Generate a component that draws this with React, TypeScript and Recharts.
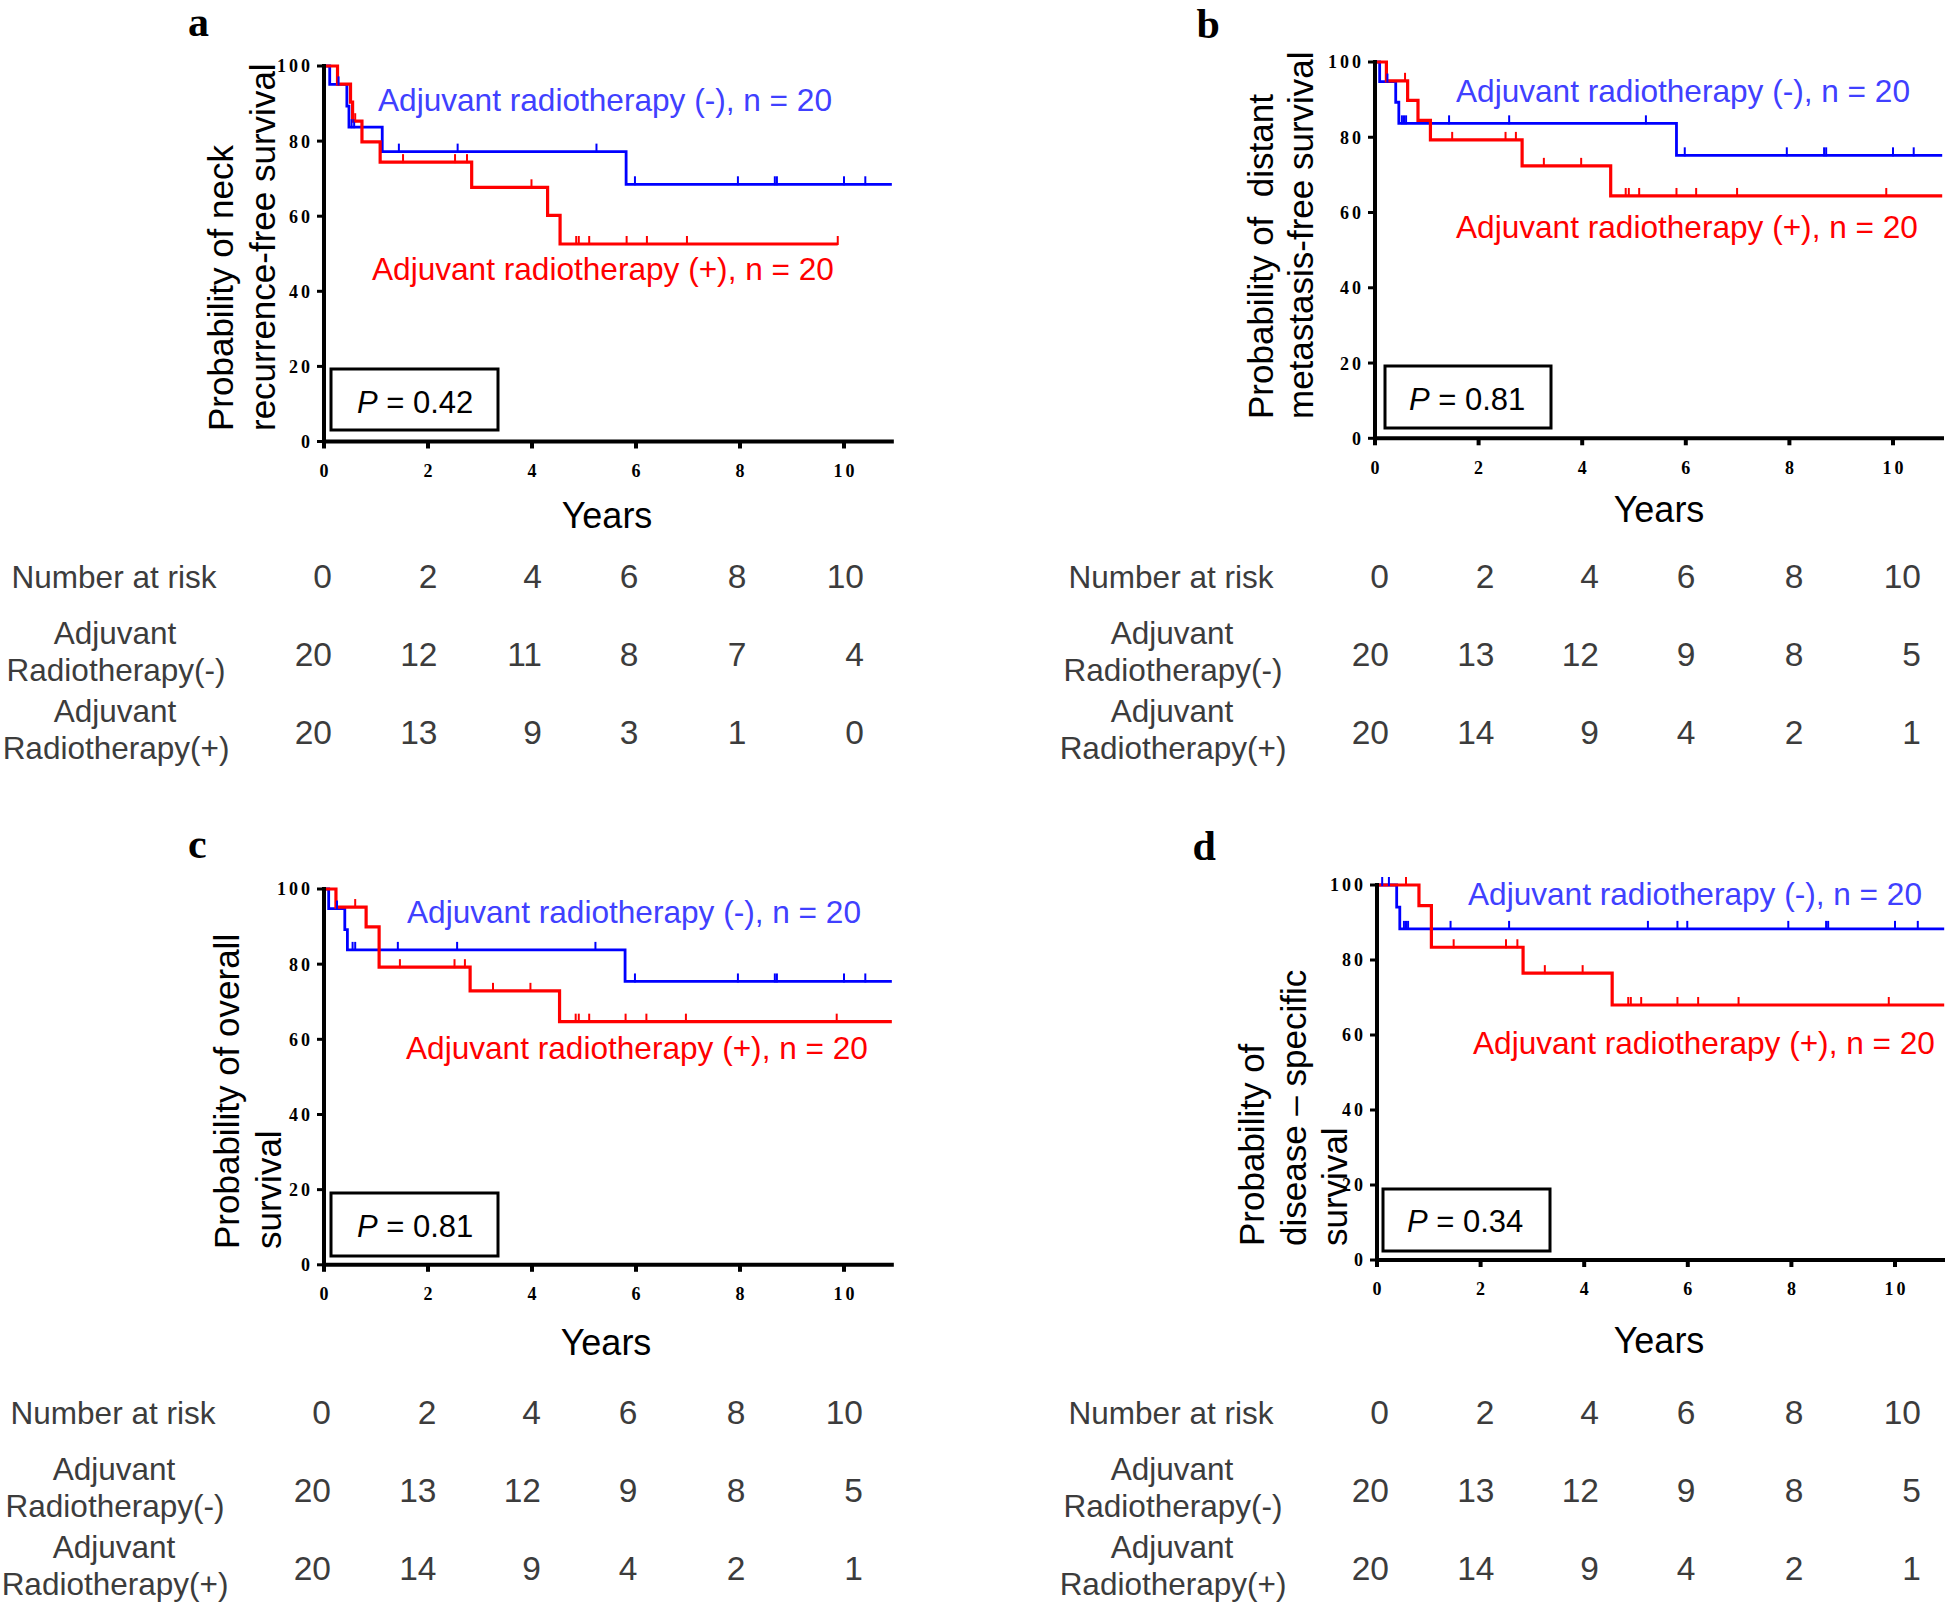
import React from "react";
import { ComposedChart, Line, XAxis, YAxis } from "recharts";

const SANS = "'Liberation Sans', Arial, Helvetica, sans-serif";
const SERIF = "'Liberation Serif', 'Times New Roman', serif";
const BLUE = "#0000ff";
const RED = "#ff0000";
const BLUE_TEXT = "#4040ff";
const GREY = "#3c3c3c";

const yearTicks = [0, 2, 4, 6, 8, 10];
const probTicks = [0, 20, 40, 60, 80, 100];

// a: neck recurrence-free survival
const aNegTimes = [0, 0.11, 0.44, 0.48, 1.12, 5.81, 10.92];
const aNegSurv = [100, 95.1, 89.3, 83.7, 77.2, 68.5, 68.5];
const aNegCensored = [0.28, 0.53, 0.58, 1.44, 2.57, 5.24, 5.98, 7.96, 8.67, 8.71, 10.0, 10.41];
const aPosTimes = [0, 0.26, 0.51, 0.55, 0.73, 1.08, 2.84, 4.3, 4.54, 9.88];
const aPosSurv = [100, 95.2, 90.4, 85.3, 79.8, 74.4, 67.7, 60.2, 52.6, 52.6];
const aPosCensored = [0.6, 1.52, 2.52, 2.75, 3.99, 4.85, 4.9, 5.1, 5.82, 6.21, 6.98, 9.88];
const aRiskNeg = [20, 12, 11, 8, 7, 4];
const aRiskPos = [20, 13, 9, 3, 1, 0];

// b: distant metastasis-free survival
const bNegTimes = [0, 0.09, 0.4, 0.46, 5.82, 10.95];
const bNegSurv = [100, 94.8, 89.3, 83.7, 75.2, 75.2];
const bNegCensored = [0.24, 0.52, 0.56, 0.6, 1.43, 2.59, 5.23, 5.98, 7.95, 8.67, 8.71, 10.0, 10.4];
const bPosTimes = [0, 0.22, 0.63, 0.83, 1.07, 2.84, 4.55, 10.95];
const bPosSurv = [100, 95, 89.8, 84.5, 79.3, 72.4, 64.4, 64.4];
const bPosCensored = [0.58, 1.49, 2.52, 2.72, 3.26, 3.98, 4.84, 4.9, 5.1, 5.82, 6.2, 6.99, 9.87];
const bRiskNeg = [20, 13, 12, 9, 8, 5];
const bRiskPos = [20, 14, 9, 4, 2, 1];

// c: overall survival
const cNegTimes = [0, 0.09, 0.4, 0.45, 5.79, 10.92];
const cNegSurv = [100, 94.8, 89.2, 83.8, 75.4, 75.4];
const cNegCensored = [0.25, 0.55, 0.6, 1.42, 2.56, 5.22, 5.98, 7.96, 8.67, 8.71, 10.0, 10.41];
const cPosTimes = [0, 0.23, 0.81, 1.06, 2.81, 4.53, 10.92];
const cPosSurv = [100, 95.2, 89.9, 79.2, 72.9, 64.7, 64.7];
const cPosCensored = [0.6, 1.46, 2.51, 2.71, 3.25, 3.97, 4.84, 4.9, 5.1, 5.8, 6.2, 6.96, 9.86];
const cRiskNeg = [20, 13, 12, 9, 8, 5];
const cRiskPos = [20, 14, 9, 4, 2, 1];

// d: disease-specific survival
const dNegTimes = [0, 0.38, 0.44, 10.95];
const dNegSurv = [100, 94.1, 88.3, 88.3];
const dNegCensored = [0.1, 0.23, 0.52, 0.56, 0.6, 1.42, 2.55, 5.23, 5.8, 5.99, 7.94, 8.67, 8.71, 10.0, 10.44];
const dPosTimes = [0, 0.81, 1.05, 2.82, 4.54, 10.95];
const dPosSurv = [100, 94.5, 83.4, 76.5, 68.0, 68.0];
const dPosCensored = [0.56, 1.48, 2.49, 2.71, 3.24, 3.97, 4.85, 4.9, 5.1, 5.8, 6.2, 6.98, 9.88];
const dRiskNeg = [20, 13, 12, 9, 8, 5];
const dRiskPos = [20, 14, 9, 4, 2, 1];

function toPoints(times: number[], surv: number[]) {
  return times.map((t, i) => ({ t, s: surv[i] }));
}

// censor marks sit on the curve, so look up the step value at each time
function censorPoints(times: number[], surv: number[], censored: number[]) {
  return censored.map((t) => {
    let s = surv[0];
    times.forEach((tt, i) => {
      if (tt <= t) s = surv[i];
    });
    return { t, s };
  });
}

const XTick = (props: any) => {
  const { x, y, payload } = props;
  return (
    <text x={x + 1.5} y={y} dy="0.75em" textAnchor="middle" fontFamily={SERIF}
      fontWeight="bold" fontSize={18} letterSpacing={3} fill="#000">
      {payload.value}
    </text>
  );
};

const YTick = (props: any) => {
  const { x, y, payload } = props;
  return (
    <text x={x} y={y} dy="0.36em" textAnchor="end" fontFamily={SERIF}
      fontWeight="bold" fontSize={18} letterSpacing={3} fill="#000">
      {payload.value}
    </text>
  );
};

function censorMark(color: string) {
  return (p: any) => (
    <line key={`c${p.index}`} x1={p.cx} x2={p.cx} y1={p.cy - 8} y2={p.cy + 1}
      stroke={color} strokeWidth={2} />
  );
}

interface KMProps {
  x0: number; y100: number; y0: number; pxYr: number; xMax: number;
  negT: number[]; negS: number[]; negC: number[];
  posT: number[]; posS: number[]; posC: number[];
}

const Y_AXIS_W = 70;
const TOP_PAD = 12;
const X_AXIS_H = 60;

function KMChart(p: KMProps) {
  const plotW = p.xMax * p.pxYr;
  const plotH = p.y0 - p.y100;
  const w = Y_AXIS_W + plotW + 2;
  const h = TOP_PAD + plotH + X_AXIS_H;
  const axisLine = { stroke: "#000", strokeWidth: 4, strokeLinecap: "square" as const };
  return (
    <div style={{ position: "absolute", left: p.x0 - Y_AXIS_W, top: p.y100 - TOP_PAD }}>
      <ComposedChart width={w} height={h} margin={{ top: TOP_PAD, right: 2, bottom: 0, left: 0 }}>
        <XAxis dataKey="t" type="number" domain={[0, p.xMax]} ticks={yearTicks}
          height={X_AXIS_H} tickSize={7} tickMargin={15} axisLine={axisLine}
          tickLine={{ stroke: "#000", strokeWidth: 4 }} tick={<XTick />} />
        <YAxis dataKey="s" type="number" domain={[0, 100]} ticks={probTicks}
          width={Y_AXIS_W} tickSize={7} tickMargin={4} axisLine={axisLine}
          tickLine={{ stroke: "#000", strokeWidth: 3 }} tick={<YTick />} />
        <Line data={toPoints(p.negT, p.negS)} dataKey="s" type="stepAfter" stroke={BLUE}
          strokeWidth={2.8} dot={false} activeDot={false} isAnimationActive={false} />
        <Line data={censorPoints(p.negT, p.negS, p.negC)} dataKey="s" stroke="none"
          dot={censorMark(BLUE)} activeDot={false} isAnimationActive={false} />
        <Line data={toPoints(p.posT, p.posS)} dataKey="s" type="stepAfter" stroke={RED}
          strokeWidth={3.2} dot={false} activeDot={false} isAnimationActive={false} />
        <Line data={censorPoints(p.posT, p.posS, p.posC)} dataKey="s" stroke="none"
          dot={censorMark(RED)} activeDot={false} isAnimationActive={false} />
      </ComposedChart>
    </div>
  );
}

function YTitle({ xs, bottom, lines }: { xs: number[]; bottom: number; lines: string[] }) {
  return (
    <>
      {lines.map((l, i) => (
        <text key={i} transform={`translate(${xs[i]},${bottom}) rotate(-90)`} fontFamily={SANS}
          fontSize={35} fill="#000" style={{ whiteSpace: "pre" }}>
          {l}
        </text>
      ))}
    </>
  );
}

function PBox({ x, y, w, h, tx, ty, value }: any) {
  return (
    <>
      <rect x={x} y={y} width={w} height={h} fill="none" stroke="#000" strokeWidth={3} />
      <text x={tx} y={ty} fontFamily={SANS} fontSize={31} fill="#000" style={{ whiteSpace: "pre" }}>
        <tspan fontStyle="italic">P</tspan>{` = ${value}`}
      </text>
    </>
  );
}

const colRight = [332, 437.5, 542, 638.5, 746.5, 864];

function RiskTable({ dx, dy, neg, pos }: { dx: number; dy: number; neg: number[]; pos: number[] }) {
  const t = { fontFamily: SANS, fontSize: 31.5, fill: GREY };
  const n = { fontFamily: SANS, fontSize: 33.5, fill: GREY };
  return (
    <g transform={`translate(${dx},${dy})`}>
      <text x={114} y={588} textAnchor="middle" {...t}>Number at risk</text>
      {yearTicks.map((v, i) => (
        <text key={`h${i}`} x={colRight[i]} y={588} textAnchor="end" {...n}>{v}</text>
      ))}
      <text x={115} y={644} textAnchor="middle" {...t}>Adjuvant</text>
      <text x={116} y={681} textAnchor="middle" {...t}>Radiotherapy(-)</text>
      {neg.map((v, i) => (
        <text key={`n${i}`} x={colRight[i]} y={666} textAnchor="end" {...n}>{v}</text>
      ))}
      <text x={115} y={722} textAnchor="middle" {...t}>Adjuvant</text>
      <text x={116} y={759} textAnchor="middle" {...t}>Radiotherapy(+)</text>
      {pos.map((v, i) => (
        <text key={`p${i}`} x={colRight[i]} y={744} textAnchor="end" {...n}>{v}</text>
      ))}
    </g>
  );
}

function Legend({ x1, y1, x2, y2 }: any) {
  return (
    <>
      <text x={x1} y={y1} fontFamily={SANS} fontSize={31.6} fill={BLUE_TEXT}>
        Adjuvant radiotherapy (-), n = 20
      </text>
      <text x={x2} y={y2} fontFamily={SANS} fontSize={31.6} fill={RED}>
        Adjuvant radiotherapy (+), n = 20
      </text>
    </>
  );
}

function Letter({ x, y, c }: any) {
  return (
    <text x={x} y={y} fontFamily={SERIF} fontWeight="bold" fontSize={42} fill="#000">{c}</text>
  );
}

function Years({ x, y }: any) {
  return (
    <text x={x} y={y} textAnchor="middle" fontFamily={SANS} fontSize={36} fill="#000">Years</text>
  );
}

export default function App() {
  return (
    <div style={{ position: "absolute", left: 0, top: 0, width: 1945, height: 1605,
      background: "#fff", overflow: "hidden" }}>
      <KMChart x0={323.7} y100={66} y0={441.5} pxYr={52} xMax={10.92}
        negT={aNegTimes} negS={aNegSurv} negC={aNegCensored}
        posT={aPosTimes} posS={aPosSurv} posC={aPosCensored} />
      <KMChart x0={1374.5} y100={61.7} y0={438} pxYr={51.8} xMax={10.95}
        negT={bNegTimes} negS={bNegSurv} negC={bNegCensored}
        posT={bPosTimes} posS={bPosSurv} posC={bPosCensored} />
      <KMChart x0={323.7} y100={889} y0={1264.8} pxYr={52} xMax={10.92}
        negT={cNegTimes} negS={cNegSurv} negC={cNegCensored}
        posT={cPosTimes} posS={cPosSurv} posC={cPosCensored} />
      <KMChart x0={1377} y100={884.5} y0={1259.5} pxYr={51.8} xMax={10.95}
        negT={dNegTimes} negS={dNegSurv} negC={dNegCensored}
        posT={dPosTimes} posS={dPosSurv} posC={dPosCensored} />

      <svg width={1945} height={1605} style={{ position: "absolute", left: 0, top: 0, pointerEvents: "none" }}>
        <Letter x={188} y={36} c="a" />
        <Letter x={1196.5} y={38} c="b" />
        <Letter x={188} y={858} c="c" />
        <Letter x={1192.5} y={860} c="d" />

        <YTitle xs={[233, 275]} bottom={431} lines={["Probability of neck", "recurrence-free survival"]} />
        <YTitle xs={[1272.5, 1313]} bottom={419} lines={["Probability of  distant", "metastasis-free survival"]} />
        <YTitle xs={[239, 281]} bottom={1249} lines={["Probability of overall", "survival"]} />
        <YTitle xs={[1264, 1306, 1347]} bottom={1246} lines={["Probability of", "disease \u2013 specific", "survival"]} />

        <Legend x1={378} y1={111} x2={372} y2={280} />
        <Legend x1={1456} y1={102} x2={1456} y2={238} />
        <Legend x1={407} y1={923} x2={406} y2={1059} />
        <Legend x1={1468} y1={905} x2={1473} y2={1054} />

        <PBox x={331} y={369} w={167} h={61} tx={357} ty={413} value="0.42" />
        <PBox x={1385} y={366} w={166} h={62} tx={1409} ty={410} value="0.81" />
        <PBox x={331} y={1193} w={167} h={63} tx={357} ty={1237} value="0.81" />
        <PBox x={1383} y={1189} w={167} h={62} tx={1407} ty={1232} value="0.34" />

        <Years x={607} y={528} />
        <Years x={1659} y={522} />
        <Years x={606} y={1355} />
        <Years x={1659} y={1353} />

        <RiskTable dx={0} dy={0} neg={aRiskNeg} pos={aRiskPos} />
        <RiskTable dx={1057} dy={0} neg={bRiskNeg} pos={bRiskPos} />
        <RiskTable dx={-1} dy={836} neg={cRiskNeg} pos={cRiskPos} />
        <RiskTable dx={1057} dy={836} neg={dRiskNeg} pos={dRiskPos} />
      </svg>
    </div>
  );
}
